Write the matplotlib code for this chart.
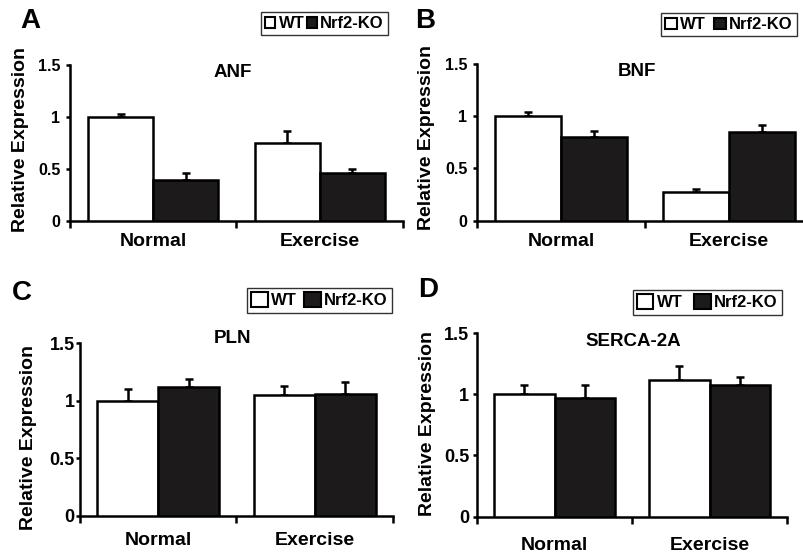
import matplotlib
matplotlib.use("Agg")
import matplotlib.pyplot as plt
from matplotlib.patches import Patch
import numpy as np

plt.rcParams['font.family'] = ['Liberation Sans', 'DejaVu Sans']
plt.rcParams['font.weight'] = 'bold'

categories = ["Normal", "Exercise"]
series = ["WT", "Nrf2-KO"]
panels = ["A", "B", "C", "D"]
genes = ["ANF", "BNF", "PLN", "SERCA-2A"]
ytick_vals = [0, 0.5, 1, 1.5]
ytick_labels = ["0", "0.5", "1", "1.5"]

# values [Normal, Exercise] per series
anf_wt = [1.00, 0.75]
anf_ko = [0.39, 0.46]
anf_wt_err = [0.03, 0.11]
anf_ko_err = [0.07, 0.04]

bnf_wt = [1.00, 0.27]
bnf_ko = [0.80, 0.85]
bnf_wt_err = [0.04, 0.03]
bnf_ko_err = [0.06, 0.07]

pln_wt = [1.00, 1.05]
pln_ko = [1.12, 1.06]
pln_wt_err = [0.10, 0.08]
pln_ko_err = [0.07, 0.10]

serca_wt = [1.00, 1.12]
serca_ko = [0.97, 1.08]
serca_wt_err = [0.08, 0.11]
serca_ko_err = [0.11, 0.06]

data = [
    (anf_wt, anf_ko, anf_wt_err, anf_ko_err),
    (bnf_wt, bnf_ko, bnf_wt_err, bnf_ko_err),
    (pln_wt, pln_ko, pln_wt_err, pln_ko_err),
    (serca_wt, serca_ko, serca_wt_err, serca_ko_err),
]

W, H = 804, 560
fig = plt.figure(figsize=(W / 100, H / 100), dpi=100)

def px_axes(left, right, bottom, top):
    return fig.add_axes([left / W, 1 - bottom / H, (right - left) / W, (bottom - top) / H])

axes_px = [
    (70, 403, 220.7, 65),
    (477, 813, 220.7, 64),
    (80, 393, 515.7, 343.3),
    (477, 787, 516.5, 333.3),
]
title_pos = [(0.49, 0.955), (0.476, 0.95), (0.487, 1.03), (0.503, 0.953)]
letter_pos = [(30, 21), (425, 21), (22, 293), (428, 290)]
ylabel_pos = [(21, 140), (427, 137), (29, 437), (428, 423)]
ytick_size = [11.5, 11.5, 13, 13]
ytick_pad = [4, 4, 0.8, 2.5]
xlab_pad = [9, 9, 11.7, 14.7]
legend_anchor = [(388, 12), (797, 13), (392, 288), (782, 290)]
legend_hl = [0.6, 0.7, 1.0, 1.0]
legend_colsp = [0.15, 0.5, 0.45, 0.7]

bw = 0.39
lw = 1.8
x = np.arange(len(categories)) + 0.5

for i, (pos, (wt, ko, wte, koe)) in enumerate(zip(axes_px, data)):
    ax = px_axes(*pos)
    ax.bar(x - bw / 2, wt, width=bw, color="white", edgecolor="black", linewidth=lw, zorder=3)
    ax.bar(x + bw / 2, ko, width=bw, color="#1c1a1a", edgecolor="black", linewidth=lw, zorder=3)
    ax.errorbar(x - bw / 2, wt, yerr=[np.zeros(2), wte], fmt="none", ecolor="black",
                elinewidth=1.8, capsize=3, capthick=1.8, zorder=2)
    ax.errorbar(x + bw / 2, ko, yerr=[np.zeros(2), koe], fmt="none", ecolor="black",
                elinewidth=1.8, capsize=3, capthick=1.8, zorder=2)
    ax.set_xlim(0, 2)
    ax.set_ylim(0, 1.5)
    for s in ["top", "right"]:
        ax.spines[s].set_visible(False)
    for s in ["left", "bottom"]:
        ax.spines[s].set_linewidth(1.8)
    ax.set_yticks(ytick_vals)
    ax.set_yticklabels(ytick_labels, fontsize=ytick_size[i], fontweight="bold")
    ax.tick_params(axis="y", direction="out", length=3, width=1.8, pad=ytick_pad[i])
    ax.set_xticks([0, 1, 2])
    ax.set_xticklabels(["", "", ""])
    ax.tick_params(axis="x", which="major", direction="out", length=5, width=1.8)
    ax.set_xticks(x, minor=True)
    ax.set_xticklabels(categories, minor=True, fontsize=14, fontweight="bold")
    ax.tick_params(axis="x", which="minor", length=0, pad=xlab_pad[i])
    fig.text(ylabel_pos[i][0] / W, 1 - ylabel_pos[i][1] / H, "Relative Expression",
             rotation=90, ha="center", va="center", fontsize=14, fontweight="bold")
    ax.text(title_pos[i][0], title_pos[i][1], genes[i], transform=ax.transAxes,
            ha="center", va="center", fontsize=13.5, fontweight="bold")
    fig.text(letter_pos[i][0] / W, 1 - letter_pos[i][1] / H, panels[i],
             ha="center", va="center", fontsize=20, fontweight="bold")
    handles = [Patch(facecolor="white", edgecolor="black", linewidth=1.5),
               Patch(facecolor="#1c1a1a", edgecolor="black", linewidth=1.5)]
    leg = fig.legend(handles, series, loc="upper right",
                     bbox_to_anchor=(legend_anchor[i][0] / W, 1 - legend_anchor[i][1] / H),
                     ncol=2, frameon=True, fancybox=False,
                     handlelength=legend_hl[i], handleheight=legend_hl[i], handletextpad=0.2,
                     columnspacing=legend_colsp[i], borderpad=0.25, borderaxespad=0,
                     prop={"weight": "bold", "size": 12})
    leg.get_frame().set_edgecolor("black")
    leg.get_frame().set_linewidth(1.0)

fig.savefig("out.png", dpi=100)
